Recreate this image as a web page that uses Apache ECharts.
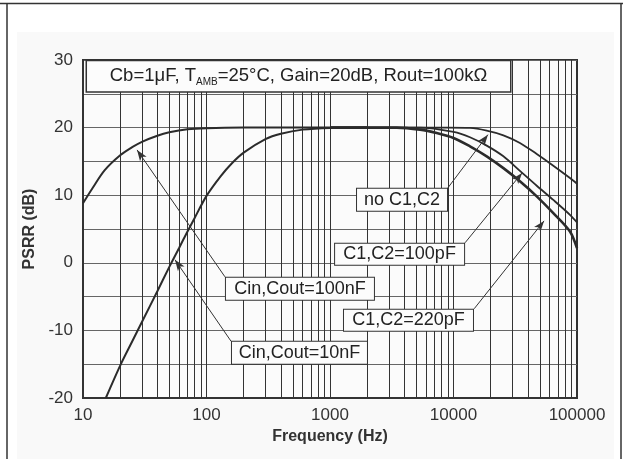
<!DOCTYPE html>
<html><head><meta charset="utf-8">
<script src="https://cdn.jsdelivr.net/npm/echarts@6/dist/echarts.min.js"></script>
<style>html,body{margin:0;padding:0;background:#fff}#c{width:623px;height:459px}</style>
</head><body><div id="c"></div>
<script>
// ---- data (frequency Hz, PSRR dB) ----
const xTicks = [10, 100, 1000, 10000, 100000];
const yTicks = [-20, -10, 0, 10, 20, 30];
const cin100nF = [[10,8.8],[12,11.1],[15,13.7],[20,15.9],[25,17.1],[30,17.9],[40,18.8],[50,19.3],[70,19.75],[100,19.92],[200,20],[500,20],[1000,20],[2000,20]];
const cin10nF = [[15.3,-20],[20,-15.2],[25,-11.65],[30,-8.75],[40,-4.2],[50,-0.6],[60,2.2],[70,4.6],[80,6.6],[100,9.9],[130,12.8],[160,14.7],[200,16.3],[300,18.3],[400,19.1],[600,19.7],[1000,19.95],[2000,20]];
const noC1C2 = [[1000,20],[5000,20],[9000,20],[13600,19.95],[18570,19.55],[25350,18.86],[34500,17.73],[47200,16.1],[64300,14.37],[87700,12.54],[100000,11.7]];
const c100pF = [[1000,20],[3000,20],[5360,20],[10000,19.36],[13600,18.57],[18570,17.33],[25350,15.75],[34500,13.6],[47200,11.4],[64300,9.3],[87700,7.1],[100000,5.98]];
const c220pF = [[1000,20],[2000,20],[3470,20],[5360,19.7],[7310,19.2],[10000,18.47],[13600,17.23],[18570,15.75],[25350,14.0],[34500,12.05],[47200,9.83],[64300,7.36],[87700,4.64],[100000,2.17]];

const titleText = ['Cb=1\u03bcF, T', 'AMB', '=25\u00b0C, Gain=20dB, Rout=100k\u03a9'];
const notes = [
  {text:'no C1,C2',        box:[3830, 9.33],  w:92,  h:24, from:[9020, 11.1],  to:[19000, 18.96]},
  {text:'C1,C2=100pF',     box:[3660, 1.26],  w:131, h:23, from:[12400, 2.96], to:[35900, 13.3]},
  {text:'C1,C2=220pF',     box:[4320, -8.5],  w:131, h:23, from:[14700, -6.8], to:[54100, 6.2]},
  {text:'Cin,Cout=100nF',  box:[571, -3.85],  w:150, h:24, from:[141, -2.07],  to:[27.4, 16.7]},
  {text:'Cin,Cout=10nF',   box:[566, -13.3],  w:137, h:24, from:[158, -11.6],  to:[55.6, 0.44]}
];

const FONT = 'Liberation Sans, Arial, sans-serif';
const ink = '#2b2b2b';
const chart = echarts.init(document.getElementById('c'), null, {renderer:'canvas'});

function lineSeries(name, data, width) {
  return {name, type:'line', data, showSymbol:false, smooth:0.3, silent:true,
    lineStyle:{color:ink, width}, z:3};
}

const markPts = notes.map(n => ({
  coord:n.box, symbol:'rect', symbolSize:0,
  label:{show:true, position:'inside', formatter:n.text, backgroundColor:'#fcfcfc',
    borderColor:'#333', borderWidth:1, width:n.w-2, height:n.h-2, lineHeight:n.h-2,
    align:'center', verticalAlign:'middle', fontSize:18, color:'#222', fontFamily:FONT}
}));
markPts.push({
  coord:[556, 27.6], symbol:'rect', symbolSize:0,
  label:{show:true, position:'inside',
    formatter:'{n|' + titleText[0] + '}{s|' + titleText[1] + '}{n|' + titleText[2] + '}',
    backgroundColor:'#fcfcfc', borderColor:'#333', borderWidth:1.5, width:423, height:30,
    align:'center', verticalAlign:'middle', fontFamily:FONT, color:'#222',
    rich:{n:{fontSize:18.5, fontFamily:FONT, color:'#222', lineHeight:30},
          s:{fontSize:10, fontFamily:FONT, color:'#222', padding:[12,0,0,0], lineHeight:30}}}
});

const markLines = notes.map(n => [{coord:n.from, symbol:'none'}, {coord:n.to, symbol:'arrow'}]);

const series = [
  lineSeries('Cin,Cout=100nF', cin100nF, 2),
  lineSeries('Cin,Cout=10nF', cin10nF, 2),
  lineSeries('no C1,C2', noC1C2, 1.8),
  lineSeries('C1,C2=100pF', c100pF, 1.8),
  Object.assign(lineSeries('C1,C2=220pF', c220pF, 2.6), {
    markLine:{silent:true, symbolSize:[6,11], label:{show:false},
      lineStyle:{color:'#333', width:1, type:'solid'}, data:markLines, animation:false},
    markPoint:{silent:true, data:markPts, animation:false}
  })
];

chart.setOption({
  animation:false,
  backgroundColor:'#ffffff',
  textStyle:{fontFamily:FONT},
  graphic:[
    {type:'rect', shape:{x:17, y:32, width:597, height:427}, style:{fill:'#f9f9f9'}, z:-10, silent:true},
    {type:'line', shape:{x1:0, y1:3.5, x2:623, y2:3.5}, style:{stroke:'#333', lineWidth:1.5}, silent:true},
    {type:'line', shape:{x1:7, y1:3, x2:7, y2:459}, style:{stroke:'#333', lineWidth:1.5}, silent:true},
    {type:'line', shape:{x1:621, y1:3, x2:621, y2:459}, style:{stroke:'#333', lineWidth:1.5}, silent:true}
  ],
  grid:{left:83, top:60, width:494, height:338, show:true, borderColor:'#333', borderWidth:2, backgroundColor:'#fbfbfb'},
  xAxis:{type:'log', logBase:10, min:xTicks[0], max:xTicks[xTicks.length-1],
    name:'Frequency (Hz)', nameLocation:'middle', nameGap:30,
    nameTextStyle:{fontSize:16, fontWeight:'bold', color:'#333', fontFamily:FONT},
    axisLine:{show:true, onZero:false, lineStyle:{color:'#333', width:2}},
    axisTick:{show:true, inside:true, length:5, lineStyle:{color:'#333'}},
    minorTick:{show:true, splitNumber:9, length:4, lineStyle:{color:'#333'}},
    splitLine:{show:true, lineStyle:{color:'#333', width:1}},
    minorSplitLine:{show:true, lineStyle:{color:'#333', width:1}},
    axisLabel:{fontSize:17, color:'#333', margin:9, fontFamily:FONT, formatter:v => String(v)}
  },
  yAxis:{type:'value', min:yTicks[0], max:yTicks[yTicks.length-1], interval:5,
    name:'PSRR (dB)', nameLocation:'middle', nameGap:35, nameRotate:90,
    nameTextStyle:{fontSize:16, fontWeight:'bold', color:'#333', fontFamily:FONT},
    axisLine:{show:true, onZero:false, lineStyle:{color:'#333', width:2}},
    axisTick:{show:false},
    splitLine:{show:true, lineStyle:{color:'#666', width:1}},
    axisLabel:{fontSize:17, color:'#333', margin:10, fontFamily:FONT,
      formatter:v => (yTicks.indexOf(v) >= 0 ? String(v) : '')}
  },
  series
});
</script></body></html>
